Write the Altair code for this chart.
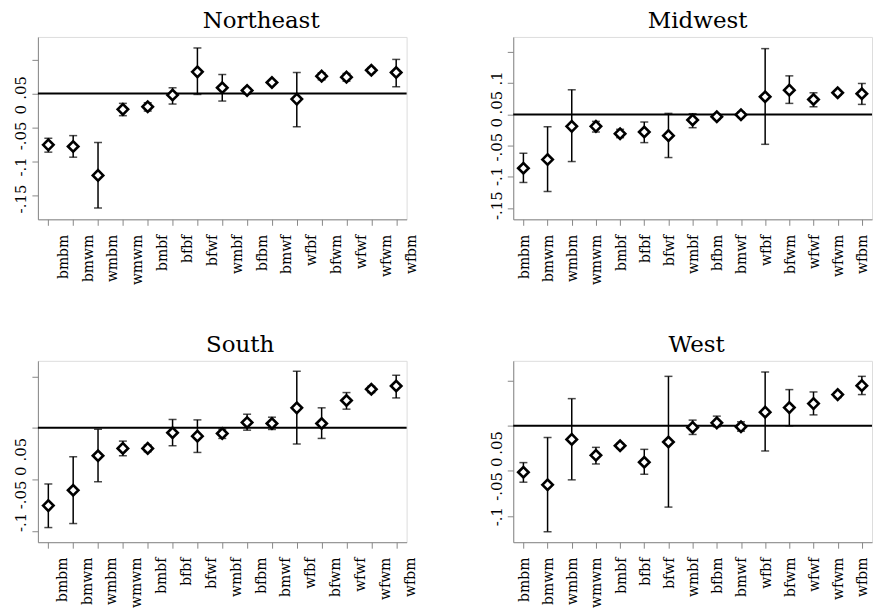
import altair as alt
import pandas as pd

cats = ["bmbm", "bmwm", "wmbm", "wmwm", "bmbf", "bfbf", "bfwf", "wmbf",
        "bfbm", "bmwf", "wfbf", "bfwm", "wfwf", "wfwm", "wfbm"]

ne_est = [-0.0756, -0.0780, -0.1205, -0.0234, -0.0195, -0.0024, 0.0317, 0.0083,
          0.0044, 0.0161, -0.0083, 0.0254, 0.0239, 0.0341, 0.0307]
ne_lo = [-0.0863, -0.0937, -0.1683, -0.0327, -0.0259, -0.0156, -0.0015, -0.0112,
         -0.0005, 0.0140, -0.0488, 0.0200, 0.0180, 0.0302, 0.0098]
ne_hi = [-0.0659, -0.0620, -0.0722, -0.0146, -0.0137, 0.0083, 0.0668, 0.0278,
         0.0083, 0.0180, 0.0307, 0.0302, 0.0293, 0.0380, 0.0500]

mw_est = [-0.0862, -0.0723, -0.0191, -0.0191, -0.0309, -0.0282, -0.0340, -0.0090,
          -0.0037, -0.0005, 0.0282, 0.0388, 0.0239, 0.0346, 0.0330]
mw_lo = [-0.1090, -0.1234, -0.0755, -0.0282, -0.0372, -0.0452, -0.0691, -0.0213,
         -0.0080, -0.0048, -0.0479, 0.0176, 0.0122, 0.0309, 0.0160]
mw_hi = [-0.0622, -0.0197, 0.0394, -0.0112, -0.0239, -0.0122, 0.0016, 0.0011,
         0.0000, 0.0037, 0.1053, 0.0617, 0.0346, 0.0378, 0.0495]

s_est = [-0.0755, -0.0606, -0.0271, -0.0200, -0.0200, -0.0048, -0.0081, -0.0055,
         0.0052, 0.0042, 0.0194, 0.0042, 0.0265, 0.0374, 0.0406]
s_lo = [-0.0968, -0.0929, -0.0523, -0.0271, -0.0232, -0.0174, -0.0239, -0.0103,
        -0.0023, -0.0016, -0.0158, -0.0103, 0.0181, 0.0342, 0.0290]
s_hi = [-0.0545, -0.0281, -0.0013, -0.0129, -0.0168, 0.0081, 0.0077, -0.0013,
        0.0132, 0.0103, 0.0548, 0.0194, 0.0342, 0.0403, 0.0510]

w_est = [-0.0515, -0.0654, -0.0151, -0.0327, -0.0221, -0.0404, -0.0180, -0.0018,
         0.0033, -0.0011, 0.0151, 0.0202, 0.0246, 0.0346, 0.0445]
w_lo = [-0.0625, -0.1173, -0.0599, -0.0423, -0.0250, -0.0537, -0.0901, -0.0096,
        -0.0011, -0.0059, -0.0279, 0.0000, 0.0121, 0.0313, 0.0346]
w_hi = [-0.0408, -0.0129, 0.0301, -0.0239, -0.0195, -0.0261, 0.0548, 0.0063,
        0.0107, 0.0044, 0.0596, 0.0401, 0.0375, 0.0375, 0.0548]

ne_ticks = [-0.15, -0.1, -0.05, 0, 0.05]
mw_ticks = [-0.15, -0.1, -0.05, 0, 0.05, 0.1]
s_ticks = [-0.1, -0.05, 0, 0.05]
w_ticks = [-0.1, -0.05, 0, 0.05]

FONT = "DejaVu Serif"
LABEL_EXPR = ("datum.value == 0 ? '0' : (datum.value < 0 ? '-' : '') + "
              "replace(format(abs(datum.value), '.2~f'), '0.', '.')")


def label_offsets(ticks, offs):
    conds = [{"test": f"abs(datum.value - ({t})) < 0.001", "value": o}
             for t, o in zip(ticks[:-1], offs[:-1])]
    return {"condition": conds, "value": offs[-1]}


def panel(title, est, lo, hi, ydom, yticks, yoffs, xlab_off, title_dx, width, height):
    df = pd.DataFrame({"cat": cats, "est": est, "lo": lo, "hi": hi})
    xenc = alt.X("cat:N", sort=cats,
                 scale=alt.Scale(type="point", padding=0.42),
                 axis=alt.Axis(title=None, labelAngle=-90, labelOffset=xlab_off,
                               labelPadding=9, tickSize=6, labelFontSize=14,
                               labelFont=FONT, grid=False))
    yscale = alt.Scale(domain=ydom, nice=False, zero=False)
    yaxis = alt.Axis(title=None, values=yticks, labelExpr=LABEL_EXPR,
                     labelAngle=-90, labelAlign="center",
                     labelBaseline="alphabetic", labelPadding=6, tickSize=6,
                     labelFontSize=15, labelFont=FONT, grid=False,
                     labelOffset=label_offsets(yticks, yoffs))

    def Y(field):
        return alt.Y(field, scale=yscale, axis=yaxis)

    base = alt.Chart(df).encode(x=xenc)
    zero = alt.Chart(pd.DataFrame({"z": [0]})).mark_rule(
        color="black", strokeWidth=2).encode(y=Y("z:Q"))
    bars = base.mark_rule(color="black", strokeWidth=1.5).encode(y=Y("lo:Q"), y2="hi:Q")
    cap_lo = base.mark_tick(color="black", size=8, thickness=1.5).encode(y=Y("lo:Q"))
    cap_hi = base.mark_tick(color="black", size=8, thickness=1.5).encode(y=Y("hi:Q"))
    pts = base.mark_point(shape="diamond", filled=True, fill="white", stroke="black",
                          strokeWidth=2.6, size=110, opacity=1).encode(y=Y("est:Q"))
    return alt.layer(zero, bars, cap_lo, cap_hi, pts).properties(
        width=width, height=height,
        title=alt.TitleParams(title, font=FONT, fontSize=23, fontWeight="normal",
                              color="black", dx=title_dx, offset=4,
                              anchor="middle"))


ne = panel("Northeast", ne_est, ne_lo, ne_hi, [-0.185, 0.083], ne_ticks,
           [3, 5, 8, 16, 28], 15, 39, 370, 183)
mw = panel("Midwest", mw_est, mw_lo, mw_hi, [-0.168, 0.124], mw_ticks,
           [-3, -1, 1, 8, 19, 26], 1, 5, 360, 183)
so = panel("South", s_est, s_lo, s_hi, [-0.111, 0.065], s_ticks,
           [-9, 15, 43, 73], 14, 18, 370, 182)
we = panel("West", w_est, w_lo, w_hi, [-0.129, 0.072], w_ticks,
           [0, 15, 36, 62], 1, 4, 360, 182)

chart = alt.concat(ne, mw, so, we, columns=2, bounds="flush",
                   spacing=alt.RowColnumber(row=142, column=107)).properties(
    padding={"left": 5, "top": 0, "right": 0, "bottom": 4}
).resolve_scale(x="independent", y="independent").configure_view(
    stroke=None
).configure_axis(
    domainColor="black", domainWidth=1.5, tickColor="black", tickWidth=1.5,
    labelColor="black", grid=False
).configure(background="white")

chart.save("out.html", embed_options={"renderer": "svg", "actions": False})
